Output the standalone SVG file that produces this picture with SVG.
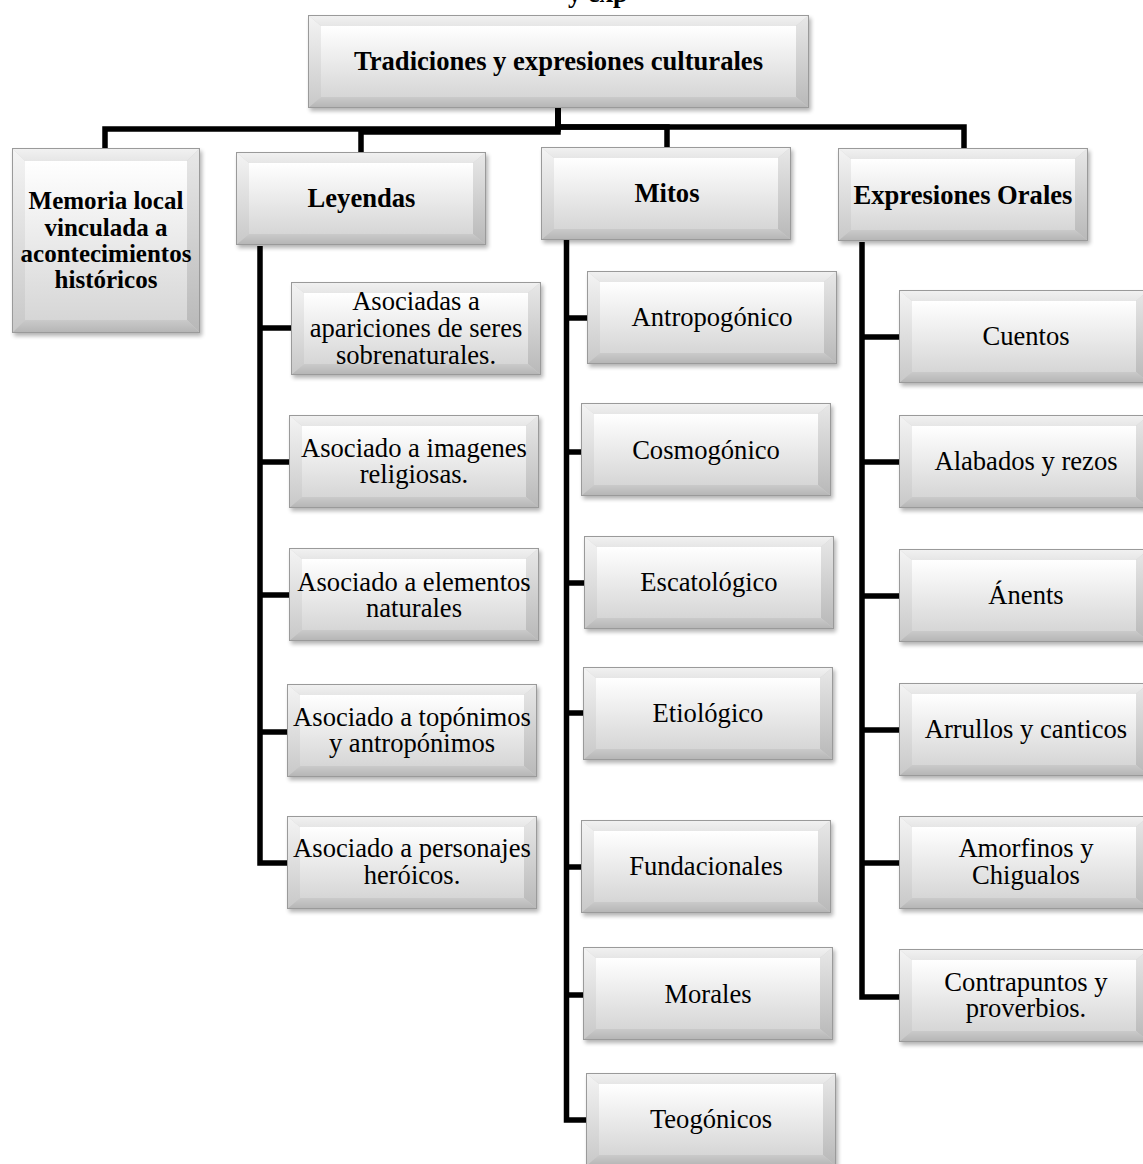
<svg xmlns="http://www.w3.org/2000/svg" xmlns:xlink="http://www.w3.org/1999/xlink" width="1143" height="1164" viewBox="0 0 1143 1164">
<style>
  text { font-family: "Liberation Serif", "Times New Roman", serif; fill: #000; text-anchor: middle; }
  .b { font-weight: bold; font-size: 26.6px; }
  .bm { font-weight: bold; font-size: 25px; }
  .r { font-size: 26.6px; }
  .conn { fill: none; stroke: #000; stroke-width: 5.5; stroke-linejoin: miter; stroke-linecap: butt; }
</style>
<defs>
  <filter id="sh" x="-10%" y="-10%" width="130%" height="140%">
    <feGaussianBlur stdDeviation="2"/>
  </filter>
  <linearGradient id="gFace" x1="0" y1="0" x2="0" y2="1">
    <stop offset="0" stop-color="#ffffff"/>
    <stop offset="1" stop-color="#d6d6d6"/>
  </linearGradient>
  <linearGradient id="gTop" x1="0" y1="0" x2="0" y2="1">
    <stop offset="0" stop-color="#f2f2f2"/>
    <stop offset="1" stop-color="#e6e6e6"/>
  </linearGradient>
  <linearGradient id="gLeft" x1="0" y1="0" x2="0" y2="1">
    <stop offset="0" stop-color="#f4f4f4"/>
    <stop offset="1" stop-color="#c8c8c8"/>
  </linearGradient>
  <linearGradient id="gRight" x1="0" y1="0" x2="0" y2="1">
    <stop offset="0" stop-color="#e8e8e8"/>
    <stop offset="1" stop-color="#b8b8b8"/>
  </linearGradient>
  <linearGradient id="gBot" x1="0" y1="0" x2="0" y2="1">
    <stop offset="0" stop-color="#cacaca"/>
    <stop offset="1" stop-color="#b4b4b4"/>
  </linearGradient>
  <g id="b250">
    <rect x="2" y="3" width="250" height="93" fill="#000" opacity="0.3" filter="url(#sh)"/>
    <rect width="250" height="93" fill="#d0d0d0"/>
    <polygon points="0,0 250,0 237,11 13,11" fill="url(#gTop)"/>
    <polygon points="0,0 13,11 13,82 0,93" fill="url(#gLeft)"/>
    <polygon points="250,0 250,93 237,82 237,11" fill="url(#gRight)"/>
    <polygon points="0,93 13,82 237,82 250,93" fill="url(#gBot)"/>
    <rect x="13" y="11" width="224" height="71" fill="url(#gFace)"/>
    <rect x="0.5" y="0.5" width="249" height="92" fill="none" stroke="#9a9a9a"/>
  </g>
  <g id="b501">
    <rect x="2" y="3" width="501" height="93" fill="#000" opacity="0.3" filter="url(#sh)"/>
    <rect width="501" height="93" fill="#d0d0d0"/>
    <polygon points="0,0 501,0 488,11 13,11" fill="url(#gTop)"/>
    <polygon points="0,0 13,11 13,82 0,93" fill="url(#gLeft)"/>
    <polygon points="501,0 501,93 488,82 488,11" fill="url(#gRight)"/>
    <polygon points="0,93 13,82 488,82 501,93" fill="url(#gBot)"/>
    <rect x="13" y="11" width="475" height="71" fill="url(#gFace)"/>
    <rect x="0.5" y="0.5" width="500" height="92" fill="none" stroke="#9a9a9a"/>
  </g>
  <g id="b188">
    <rect x="2" y="3" width="188" height="185" fill="#000" opacity="0.3" filter="url(#sh)"/>
    <rect width="188" height="185" fill="#d0d0d0"/>
    <polygon points="0,0 188,0 175,13 13,13" fill="url(#gTop)"/>
    <polygon points="0,0 13,13 13,172 0,185" fill="url(#gLeft)"/>
    <polygon points="188,0 188,185 175,172 175,13" fill="url(#gRight)"/>
    <polygon points="0,185 13,172 175,172 188,185" fill="url(#gBot)"/>
    <rect x="13" y="13" width="162" height="159" fill="url(#gFace)"/>
    <rect x="0.5" y="0.5" width="187" height="184" fill="none" stroke="#9a9a9a"/>
  </g>
</defs>
<rect width="1143" height="1164" fill="#ffffff"/>

<text class="b" x="568" y="2" style="text-anchor:start">y exp</text>

<g id="connectors">
  <path class="conn" d="M558,108 V129 H105 V148"/>
  <path class="conn" d="M558,108 V132 H361 V152"/>
  <path class="conn" d="M558,108 V127 H667 V147"/>
  <path class="conn" d="M558,108 V127 H964 V148"/>
  <path class="conn" d="M260,246 V863 H287"/>
  <path class="conn" d="M260,328 H291 M260,462 H289 M260,595 H289 M260,732 H287"/>
  <path class="conn" d="M566.5,240 V1120 H586"/>
  <path class="conn" d="M566.5,318 H587 M566.5,452 H581 M566.5,583 H584 M566.5,713 H583 M566.5,867 H581 M566.5,995 H583"/>
  <path class="conn" d="M862,242 V997 H899"/>
  <path class="conn" d="M862,337 H899 M862,462 H899 M862,596 H899 M862,730 H899 M862,863 H899"/>
</g>

<g id="n-root">
  <use xlink:href="#b501" x="308" y="15"/>
  <text class="b" x="558.5" y="70">Tradiciones y expresiones culturales</text>
</g>
<g id="n-memoria">
  <use xlink:href="#b188" x="12" y="148"/>
  <text class="bm" x="106" y="209">Memoria local</text>
  <text class="bm" x="106" y="235.5">vinculada a</text>
  <text class="bm" x="106" y="262">acontecimientos</text>
  <text class="bm" x="106" y="288">históricos</text>
</g>
<g id="n-leyendas">
  <use xlink:href="#b250" x="236" y="152"/>
  <text class="b" x="361.5" y="207">Leyendas</text>
</g>
<g id="n-mitos">
  <use xlink:href="#b250" x="541" y="147"/>
  <text class="b" x="667" y="202">Mitos</text>
</g>
<g id="n-expresiones">
  <use xlink:href="#b250" x="838" y="148"/>
  <text class="b" x="963" y="204">Expresiones Orales</text>
</g>

<g id="n-l1">
  <use xlink:href="#b250" x="291" y="282"/>
  <text class="r" x="416" y="310">Asociadas a</text>
  <text class="r" x="416" y="337">apariciones de seres</text>
  <text class="r" x="416" y="364">sobrenaturales.</text>
</g>
<g id="n-l2">
  <use xlink:href="#b250" x="289" y="415"/>
  <text class="r" x="414" y="457">Asociado a imagenes</text>
  <text class="r" x="414" y="483">religiosas.</text>
</g>
<g id="n-l3">
  <use xlink:href="#b250" x="289" y="548"/>
  <text class="r" x="414" y="590.5">Asociado a elementos</text>
  <text class="r" x="414" y="617">naturales</text>
</g>
<g id="n-l4">
  <use xlink:href="#b250" x="287" y="684"/>
  <text class="r" x="412" y="725.5">Asociado a topónimos</text>
  <text class="r" x="412" y="752">y antropónimos</text>
</g>
<g id="n-l5">
  <use xlink:href="#b250" x="287" y="816"/>
  <text class="r" x="412" y="857">Asociado a personajes</text>
  <text class="r" x="412" y="883.5">heróicos.</text>
</g>

<g id="n-m1">
  <use xlink:href="#b250" x="587" y="271"/>
  <text class="r" x="712" y="326">Antropogónico</text>
</g>
<g id="n-m2">
  <use xlink:href="#b250" x="581" y="403"/>
  <text class="r" x="706" y="459">Cosmogónico</text>
</g>
<g id="n-m3">
  <use xlink:href="#b250" x="584" y="536"/>
  <text class="r" x="709" y="591">Escatológico</text>
</g>
<g id="n-m4">
  <use xlink:href="#b250" x="583" y="667"/>
  <text class="r" x="708" y="722">Etiológico</text>
</g>
<g id="n-m5">
  <use xlink:href="#b250" x="581" y="820"/>
  <text class="r" x="706" y="875">Fundacionales</text>
</g>
<g id="n-m6">
  <use xlink:href="#b250" x="583" y="947"/>
  <text class="r" x="708" y="1002.5">Morales</text>
</g>
<g id="n-m7">
  <use xlink:href="#b250" x="586" y="1073"/>
  <text class="r" x="711" y="1128">Teogónicos</text>
</g>

<g id="n-e1">
  <use xlink:href="#b250" x="899" y="290"/>
  <text class="r" x="1026" y="345">Cuentos</text>
</g>
<g id="n-e2">
  <use xlink:href="#b250" x="899" y="415"/>
  <text class="r" x="1026" y="470">Alabados y rezos</text>
</g>
<g id="n-e3">
  <use xlink:href="#b250" x="899" y="549"/>
  <text class="r" x="1026" y="604">Ánents</text>
</g>
<g id="n-e4">
  <use xlink:href="#b250" x="899" y="683"/>
  <text class="r" x="1026" y="738">Arrullos y canticos</text>
</g>
<g id="n-e5">
  <use xlink:href="#b250" x="899" y="816"/>
  <text class="r" x="1026" y="857">Amorfinos y</text>
  <text class="r" x="1026" y="884">Chigualos</text>
</g>
<g id="n-e6">
  <use xlink:href="#b250" x="899" y="949"/>
  <text class="r" x="1026" y="990.5">Contrapuntos y</text>
  <text class="r" x="1026" y="1017">proverbios.</text>
</g>
</svg>
